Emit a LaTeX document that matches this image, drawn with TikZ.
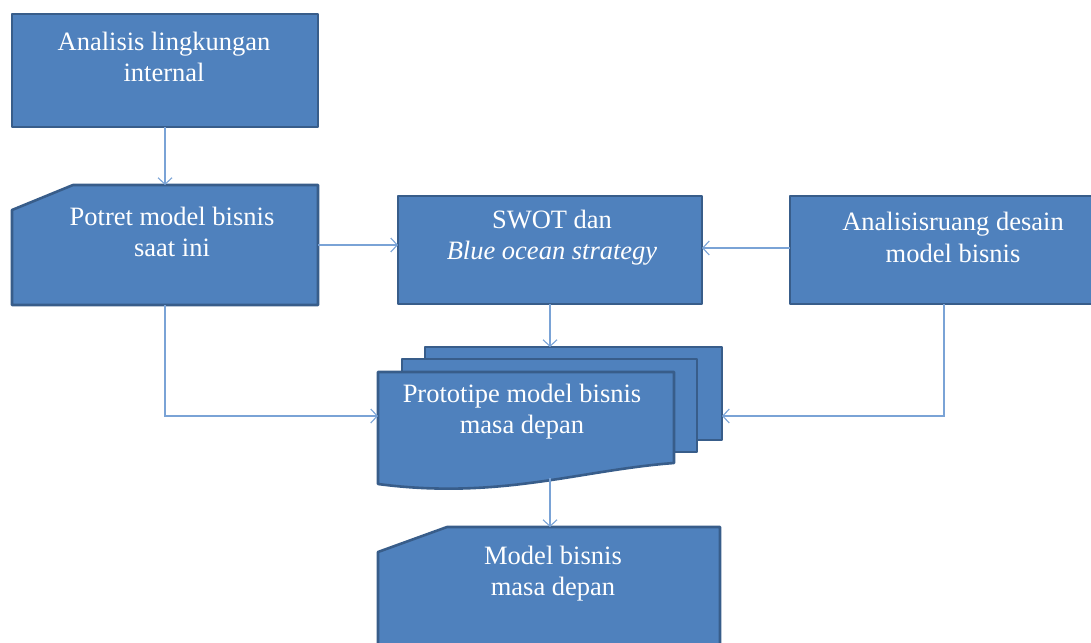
\documentclass[tikz,border=0pt]{standalone}
\usepackage{fontspec}
\setmainfont{Liberation Serif}
\usetikzlibrary{arrows.meta}
\definecolor{fillb}{HTML}{4F81BD}
\definecolor{edgeb}{HTML}{385D8A}
\definecolor{linkb}{HTML}{7AA3D6}
\begin{document}
\begin{tikzpicture}[x=1pt,y=-1pt,
  shapebox/.style={fill=fillb, draw=edgeb, line width=2.6pt, line join=round},
  frame/.style={inner sep=0pt, outer sep=0pt, draw=none},
  lbl/.style={text=white, font=\fontsize{26.5}{31.5}\selectfont, align=center, inner sep=0pt},
  link/.style={draw=linkb, line width=1.1pt, -{Straight Barb[length=6.5pt,width=14pt]}}]
\useasboundingbox (0,0) rectangle (1091,642);
% frames
\node[frame, minimum width=306pt, minimum height=113pt] (ana) at (165,70.5) {};
\node[frame, minimum width=306pt, minimum height=120pt] (pot) at (165,245) {};
\node[frame, minimum width=304pt, minimum height=108pt] (swot) at (550,250) {};
\node[frame, minimum width=308pt, minimum height=108pt] (rua) at (944,250) {};
\node[frame, minimum width=297pt, minimum height=93pt] (protoback) at (573.5,393.5) {};
\node[frame, minimum width=296pt, minimum height=88pt] (proto) at (526,416) {};
\node[frame, minimum width=342pt, minimum height=123pt] (mod) at (549,588.5) {};
\coordinate (protobot) at (550,478);
% shapes
\draw[shapebox] (12,14) rectangle (318,127);
\draw[shapebox] (12,210) -- (73,185) -- (318,185) -- (318,305) -- (12,305) -- cycle;
\draw[shapebox] (398,196) rectangle (702,304);
\draw[shapebox] (790,196) -- (1098,196) -- (1098,304) -- (790,304) -- cycle;
\draw[shapebox] (425,347) rectangle (722,440);
\draw[shapebox] (402,359) rectangle (697,452);
\draw[shapebox] (378,372) -- (674,372) -- (674,463) .. controls (580,470) and (500,500) .. (378,484) -- cycle;
\draw[shapebox] (378,552) -- (447,527) -- (720,527) -- (720,650) -- (378,650) -- cycle;
% labels
\node[lbl] (anat) at (164,57) {Analisis lingkungan\\internal};
\node[lbl] (pott) at (172,232) {Potret model bisnis\\saat ini};
\node[lbl] (swott) at (552,237.5) {SWOT dan\\\textit{Blue ocean strategy}};
\node[lbl] (ruat) at (953,237.5) {Analisisruang desain\\model bisnis};
\node[lbl] (protot) at (522,411.5) {Prototipe model bisnis\\masa depan};
\node[lbl] (modt) at (553,573.5) {Model bisnis\\masa depan};
% connectors
\draw[link] (ana.south) -- (pot.north);
\draw[link] (pot.east) -- (swot.west |- pot.east);
\draw[link] ([yshift=2pt]rua.west) -- ([yshift=2pt]swot.east);
\draw[link] (swot.south) -- (swot.south |- protoback.north);
\draw[link] (pot.south) |- (proto.west);
\draw[link] (rua.south) |- (protoback.east |- proto.west);
\draw[link] (protobot) -- (protobot |- mod.north);
\end{tikzpicture}
\end{document}
